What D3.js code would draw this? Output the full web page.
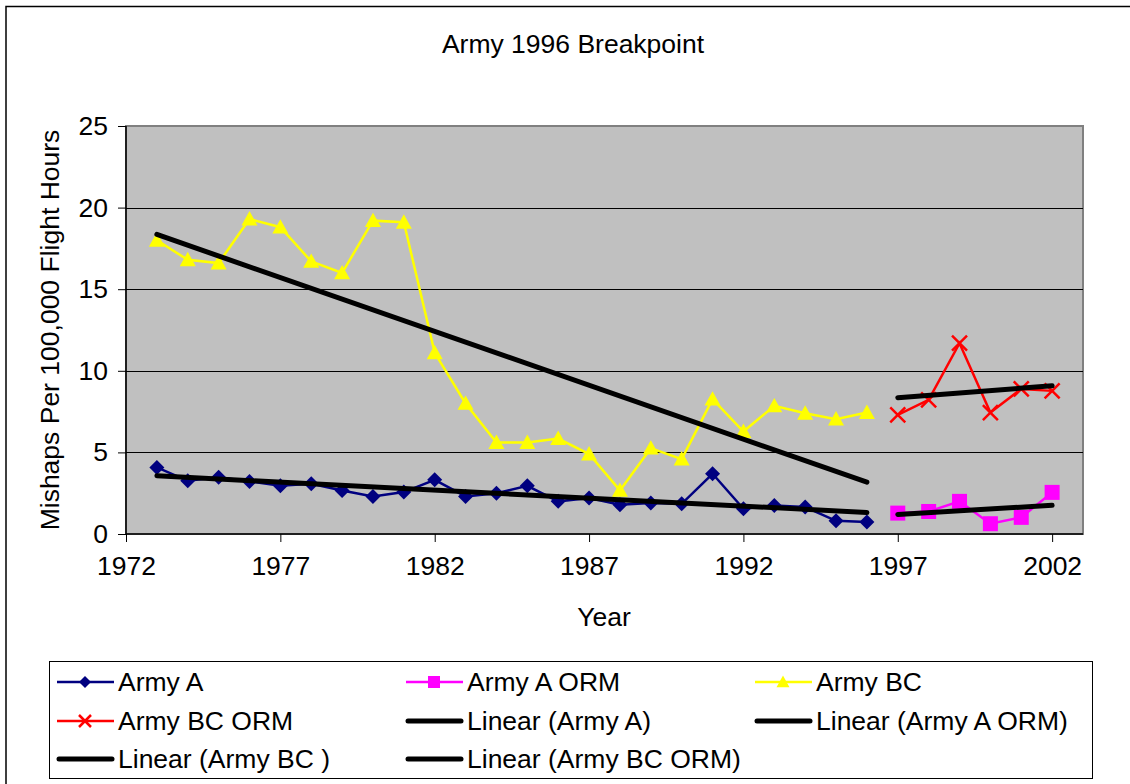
<!DOCTYPE html>
<html><head><meta charset="utf-8">
<script src="https://cdn.jsdelivr.net/npm/d3@7"></script>
<style>
html,body{margin:0;padding:0;background:#fff;}
svg{display:block;font-family:"Liberation Sans",Arial,sans-serif;}
</style></head>
<body><svg id="c" width="1130" height="784"></svg>
<script>
const yearsAB = [1973,1974,1975,1976,1977,1978,1979,1980,1981,1982,1983,1984,1985,1986,1987,1988,1989,1990,1991,1992,1993,1994,1995,1996];
const yearsORM = [1997,1998,1999,2000,2001,2002];
const armyA = [4.08,3.26,3.47,3.22,2.96,3.08,2.67,2.3,2.57,3.32,2.3,2.5,2.95,2.0,2.2,1.79,1.9,1.85,3.69,1.55,1.75,1.65,0.81,0.73];
const armyBC = [18.0,16.8,16.6,19.3,18.8,16.7,16.0,19.2,19.1,11.1,8.0,5.6,5.6,5.85,4.9,2.67,5.26,4.59,8.26,6.28,7.85,7.4,7.04,7.44];
const armyAORM = [1.28,1.38,2.0,0.63,1.02,2.55];
const armyBCORM = [7.3,8.22,11.69,7.44,8.89,8.77];
const xTicks = [1972,1977,1982,1987,1992,1997,2002];
const yTicks = [0,5,10,15,20,25];
const title = "Army 1996 Breakpoint";
const xTitle = "Year";
const yTitle = "Mishaps Per 100,000 Flight Hours";
const legendLabels = ["Army A","Army A ORM","Army BC","Army BC ORM","Linear (Army A)","Linear (Army A ORM)","Linear (Army BC )","Linear (Army BC ORM)"];

const svg = d3.select("#c");
const FONT = 26.5;
const L = 126, R = 1083, T = 126, B = 534;
const x = d3.scaleLinear().domain([1972,2003]).range([L,R]);
const y = d3.scaleLinear().domain([0,25]).range([B,T]);

// outer chart border
svg.append("rect").attr("x",6).attr("y",6.5).attr("width",1300).attr("height",900)
  .attr("fill","#fff").attr("stroke","#000").attr("stroke-width",1.5);

// plot area
svg.append("rect").attr("x",L).attr("y",T).attr("width",R-L).attr("height",B-T)
  .attr("fill","#C0C0C0").attr("stroke","#808080").attr("stroke-width",2);

// gridlines
svg.append("g").selectAll("line").data(yTicks.filter(d=>d>0 && d<25)).join("line")
  .attr("x1",L).attr("x2",R).attr("y1",d=>Math.round(y(d))+0.5).attr("y2",d=>Math.round(y(d))+0.5)
  .attr("stroke","#000").attr("stroke-width",1);

// axes
const yAxis = d3.axisLeft(y).tickValues(yTicks).tickSize(8).tickPadding(10).tickFormat(d3.format("d"));
const gy = svg.append("g").attr("transform",`translate(${L},0)`).call(yAxis);
const xAxis = d3.axisBottom(x).tickValues(xTicks).tickSize(8).tickPadding(14).tickFormat(d3.format("d"));
const gx = svg.append("g").attr("transform",`translate(0,${B})`).call(xAxis);
[gx,gy].forEach(g=>{
  g.select(".domain").attr("stroke","#000").attr("stroke-width",1.5);
  g.selectAll(".tick line").attr("stroke","#000").attr("stroke-width",1);
  g.selectAll("text").attr("font-size",FONT).attr("font-family","Liberation Sans, Arial, sans-serif").attr("fill","#000");
});
gx.select(".domain").attr("d",`M${L},0H${R}`);
gy.select(".domain").attr("d",`M0,${B}V${T}`);

// titles
svg.append("text").attr("x",573).attr("y",53).attr("text-anchor","middle").attr("font-size",FONT).text(title);
svg.append("text").attr("x",604).attr("y",626).attr("text-anchor","middle").attr("font-size",FONT).text(xTitle);
svg.append("text").attr("transform",`translate(59,${(T+B)/2}) rotate(-90)`).attr("text-anchor","middle").attr("font-size",FONT).text(yTitle);

// marker drawing
function marker(g, type, color, s){
  if(type==="diamond"){
    g.append("path").attr("d",`M0,${-s}L${s},0L0,${s}L${-s},0Z`).attr("fill",color);
  } else if(type==="square"){
    g.append("rect").attr("x",-s).attr("y",-s).attr("width",2*s).attr("height",2*s).attr("fill",color);
  } else if(type==="triangle"){
    g.append("path").attr("d",`M0,${-s}L${s},${s*0.8}L${-s},${s*0.8}Z`).attr("fill",color);
  } else if(type==="x"){
    g.append("path").attr("d",`M${-s},${-s}L${s},${s}M${s},${-s}L${-s},${s}`).attr("stroke",color).attr("stroke-width",2.5).attr("fill","none");
  }
}

const series = [
  {xs:yearsAB, ys:armyA, color:"#000080", type:"diamond", size:7.5},
  {xs:yearsORM, ys:armyAORM, color:"#FF00FF", type:"square", size:7.5},
  {xs:yearsAB, ys:armyBC, color:"#FFFF00", type:"triangle", size:8},
  {xs:yearsORM, ys:armyBCORM, color:"#FF0000", type:"x", size:7.5}
];
const line = d3.line().x(d=>x(d[0])).y(d=>y(d[1]));
series.forEach(s=>{
  const pts = s.xs.map((v,i)=>[v,s.ys[i]]);
  svg.append("path").datum(pts).attr("d",line).attr("fill","none").attr("stroke",s.color).attr("stroke-width",2.5);
  pts.forEach(p=>{
    const g = svg.append("g").attr("transform",`translate(${x(p[0])},${y(p[1])})`);
    marker(g,s.type,s.color,s.size);
  });
});

// linear trendlines (least squares)
function fit(xs,ys){
  const mx=d3.mean(xs), my=d3.mean(ys);
  let num=0,den=0; xs.forEach((v,i)=>{num+=(v-mx)*(ys[i]-my);den+=(v-mx)*(v-mx);});
  const b=num/den, a=my-b*mx;
  return [[xs[0],a+b*xs[0]],[xs[xs.length-1],a+b*xs[xs.length-1]]];
}
[[yearsAB,armyA],[yearsORM,armyAORM],[yearsAB,armyBC],[yearsORM,armyBCORM]].forEach(([xs,ys])=>{
  svg.append("path").datum(fit(xs,ys)).attr("d",line).attr("fill","none").attr("stroke","#000")
    .attr("stroke-width",5).attr("stroke-linecap","round");
});

// legend
svg.append("rect").attr("x",49.5).attr("y",661.5).attr("width",1043).attr("height",117)
  .attr("fill","#fff").attr("stroke","#000").attr("stroke-width",1);
const legItems = [
  {label:legendLabels[0], color:"#000080", type:"diamond", size:6},
  {label:legendLabels[1], color:"#FF00FF", type:"square", size:6},
  {label:legendLabels[2], color:"#FFFF00", type:"triangle", size:6.5},
  {label:legendLabels[3], color:"#FF0000", type:"x", size:6},
  {label:legendLabels[4], trend:true},
  {label:legendLabels[5], trend:true},
  {label:legendLabels[6], trend:true},
  {label:legendLabels[7], trend:true}
];
const colX = [118,467,816], rowY = [682,721,759];
legItems.forEach((it,i)=>{
  const cx = colX[i%3], cy = rowY[Math.floor(i/3)];
  const g = svg.append("g");
  if(it.trend){
    g.append("line").attr("x1",cx-59).attr("x2",cx-6).attr("y1",cy).attr("y2",cy)
      .attr("stroke","#000").attr("stroke-width",5).attr("stroke-linecap","round");
  } else {
    g.append("line").attr("x1",cx-61).attr("x2",cx-4).attr("y1",cy).attr("y2",cy)
      .attr("stroke",it.color).attr("stroke-width",2.5);
    const mg = g.append("g").attr("transform",`translate(${cx-33},${cy})`);
    marker(mg,it.type,it.color,it.size);
  }
  g.append("text").attr("x",cx).attr("y",cy).attr("dy","0.35em").attr("font-size",FONT).text(it.label);
});
</script></body></html>
